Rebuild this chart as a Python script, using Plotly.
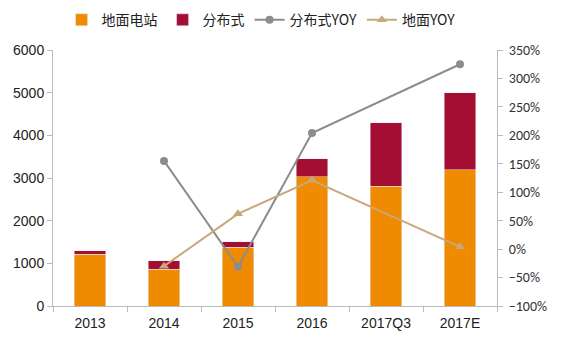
import plotly.graph_objects as go

categories = ["2013", "2014", "2015", "2016", "2017Q3", "2017E"]
ground = [1210, 860, 1375, 3030, 2810, 3190]
distributed = [80, 200, 130, 420, 1490, 1810]
dist_yoy = [None, 155, -31, 204, None, 325]
ground_yoy = [None, -30, 62, 121, None, 4]

orange = "#F08A00"
red = "#A50E33"
gray = "#8C8C8C"
tan = "#C8A878"

fig = go.Figure()
fig.add_bar(x=categories, y=ground, name="地面电站", marker_color=orange, width=0.43)
fig.add_bar(x=categories, y=distributed, name="分布式", marker_color=red, width=0.43)
fig.add_scatter(x=categories, y=dist_yoy, name="分布式YOY", yaxis="y2", mode="lines+markers",
                connectgaps=True, line=dict(color=gray, width=2), marker=dict(size=8, color=gray))
fig.add_scatter(x=categories, y=ground_yoy, name="地面YOY", yaxis="y2", mode="lines+markers",
                connectgaps=True, line=dict(color=tan, width=2),
                marker=dict(size=9, color=tan, symbol="triangle-up"))

font = "Liberation Sans, Arial, Noto Sans CJK SC"
fig.update_layout(
    width=555, height=338, barmode="stack",
    paper_bgcolor="white", plot_bgcolor="white",
    margin=dict(l=45, r=66, t=42, b=40, autoexpand=False),
    font=dict(family=font, size=14, color="#222"),
    legend=dict(orientation="h", x=0.456, xanchor="center", xref="container",
                y=0.964, yanchor="middle", yref="container",
                font=dict(family="Noto Sans CJK SC", size=14), itemwidth=30, traceorder="normal"),
    xaxis=dict(showline=True, linecolor="#BBBBBB", ticks="outside", tickson="boundaries",
               tickcolor="#BBBBBB", ticklen=5, ticklabelstandoff=4,
               tickfont=dict(size=14, color="#222"), automargin=False),
    yaxis=dict(range=[0, 6000], dtick=1000, showgrid=False, showline=True, linecolor="#BBBBBB",
               ticks="outside", tickcolor="#BBBBBB", ticklen=5, zeroline=False, automargin=False,
               tickfont=dict(size=14, color="#222")),
    yaxis2=dict(range=[-100, 350], dtick=50, overlaying="y", side="right", showgrid=False,
                showline=True, linecolor="#BBBBBB", ticks="outside", tickcolor="#BBBBBB", ticklen=5,
                ticklabelstandoff=3, ticksuffix="%", zeroline=False, automargin=False,
                tickfont=dict(family="Carlito, Liberation Sans, Arial", size=14, color="#333")),
)
fig.write_html("out.html")
